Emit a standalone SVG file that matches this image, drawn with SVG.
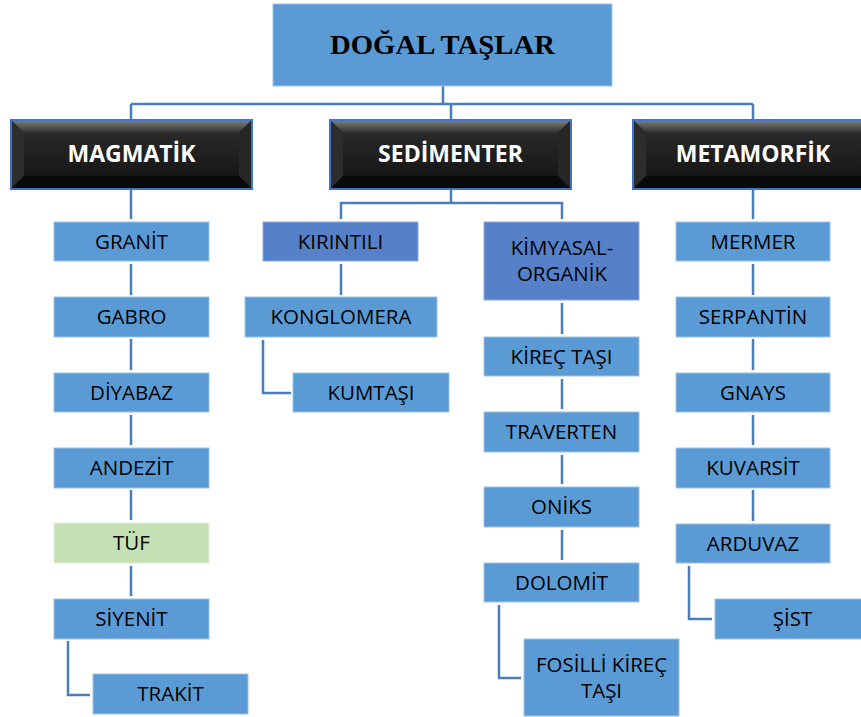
<svg xmlns="http://www.w3.org/2000/svg" xmlns:xlink="http://www.w3.org/1999/xlink" width="861" height="717" viewBox="0 0 861 717">
<style>
.box{fill:#5B9BD5;stroke:#9DC3E6;stroke-width:1}
.dark{fill:#5681C9;stroke:#8FAADC;stroke-width:1}
.green{fill:#C5E0B4;stroke:#E2F0D9;stroke-width:1}
.t{font-family:"Open Sans","Liberation Sans",sans-serif;font-size:20.5px;fill:#000;text-anchor:middle}
.c{font-family:"Open Sans","Liberation Sans",sans-serif;font-size:23px;font-weight:bold;fill:#fff;text-anchor:middle}
.title{font-family:"Liberation Serif",serif;font-size:28px;font-weight:bold;fill:#000;text-anchor:middle}
#connectors path{fill:none;stroke:#4A7EBB;stroke-width:2.5}
</style>
<defs>
<linearGradient id="topg" x1="0" y1="0" x2="0" y2="1">
<stop offset="0" stop-color="#7a7a7a"/><stop offset="1" stop-color="#2e2e2e"/>
</linearGradient>
<linearGradient id="face" x1="0" y1="0" x2="0" y2="1">
<stop offset="0" stop-color="#2a2a2a"/><stop offset="1" stop-color="#161616"/>
</linearGradient>
<g id="bevel">
<rect x="0" y="0" width="241" height="69" fill="#141414" stroke="#4472C4" stroke-width="2"/>
<polygon points="1,1 240,1 228,13 13,13" fill="url(#topg)"/>
<polygon points="1,1 13,13 13,56 1,68" fill="#2d2d2d"/>
<polygon points="240,1 228,13 228,56 240,68" fill="#262626"/>
<polygon points="1,68 13,56 228,56 240,68" fill="#0a0a0a"/>
<rect x="13" y="13" width="215" height="43" fill="url(#face)"/>
</g>
</defs>

<g id="connectors">
<path d="M443 86V104M131 104H753M131 104V120M451 104V120M753 104V120"/>
<path d="M131 189V219M131 264V295M131 339V370M131 415V445M131 490V520M131 566V596M68 641V695H90"/>
<path d="M451 189V203M341 219V203H562V219M341 264V295M263 340V393H291"/>
<path d="M562 303V334M562 379V409M562 455V484M562 530V560M499 605V678H521"/>
<path d="M753 189V219M753 264V295M753 339V370M753 415V445M753 490V521M689 566V619H712"/>
</g>

<g id="root"><rect x="273" y="4" width="339" height="82" class="box"/><text x="442.5" y="53.5" class="title" textLength="225" lengthAdjust="spacingAndGlyphs">DOĞAL TAŞLAR</text></g>

<g id="magmatik"><use xlink:href="#bevel" x="11" y="120"/><text x="131.5" y="162" class="c">MAGMATİK</text></g>
<g id="sedimenter"><use xlink:href="#bevel" x="330" y="120"/><text x="450.5" y="162" class="c">SEDİMENTER</text></g>
<g id="metamorfik"><use xlink:href="#bevel" x="633" y="120"/><text x="753" y="162" class="c">METAMORFİK</text></g>

<g id="granit"><rect x="54" y="222" width="155" height="39" class="box"/><text x="131.5" y="249" class="t">GRANİT</text></g>
<g id="gabro"><rect x="54" y="297" width="155" height="40" class="box"/><text x="131.5" y="324" class="t">GABRO</text></g>
<g id="diyabaz"><rect x="54" y="373" width="155" height="39" class="box"/><text x="131.5" y="400" class="t">DİYABAZ</text></g>
<g id="andezit"><rect x="54" y="448" width="155" height="40" class="box"/><text x="131.5" y="475" class="t">ANDEZİT</text></g>
<g id="tuf"><rect x="54" y="523" width="155" height="40" class="green"/><text x="131.5" y="550" class="t">TÜF</text></g>
<g id="siyenit"><rect x="54" y="599" width="155" height="40" class="box"/><text x="131.5" y="626" class="t">SİYENİT</text></g>
<g id="trakit"><rect x="93" y="674" width="155" height="40" class="box"/><text x="170.5" y="701" class="t">TRAKİT</text></g>

<g id="kirintili"><rect x="263" y="222" width="155" height="39" class="dark"/><text x="340.5" y="249" class="t">KIRINTILI</text></g>
<g id="konglomera"><rect x="245" y="297" width="192" height="40" class="box"/><text x="341" y="324" class="t">KONGLOMERA</text></g>
<g id="kumtasi"><rect x="293" y="373" width="156" height="39" class="box"/><text x="371" y="400" class="t">KUMTAŞI</text></g>

<g id="kimyasal"><rect x="484" y="222" width="155" height="78" class="dark"/><text x="562" y="255" class="t">KİMYASAL-</text><text x="562" y="281" class="t">ORGANİK</text></g>
<g id="kirectasi"><rect x="484" y="337" width="155" height="39" class="box"/><text x="561.5" y="364" class="t">KİREÇ TAŞI</text></g>
<g id="traverten"><rect x="484" y="412" width="155" height="40" class="box"/><text x="561.5" y="439" class="t">TRAVERTEN</text></g>
<g id="oniks"><rect x="484" y="487" width="155" height="40" class="box"/><text x="561.5" y="514" class="t">ONİKS</text></g>
<g id="dolomit"><rect x="484" y="563" width="155" height="39" class="box"/><text x="561.5" y="590" class="t">DOLOMİT</text></g>
<g id="fosilli"><rect x="524" y="639" width="155" height="77" class="box"/><text x="601.5" y="672" class="t">FOSİLLİ KİREÇ</text><text x="601.5" y="698" class="t">TAŞI</text></g>

<g id="mermer"><rect x="676" y="222" width="154" height="39" class="box"/><text x="753" y="249" class="t">MERMER</text></g>
<g id="serpantin"><rect x="676" y="297" width="154" height="40" class="box"/><text x="753" y="324" class="t">SERPANTİN</text></g>
<g id="gnays"><rect x="676" y="373" width="154" height="39" class="box"/><text x="753" y="400" class="t">GNAYS</text></g>
<g id="kuvarsit"><rect x="676" y="448" width="154" height="40" class="box"/><text x="753" y="475" class="t">KUVARSİT</text></g>
<g id="arduvaz"><rect x="676" y="524" width="154" height="39" class="box"/><text x="753" y="551" class="t">ARDUVAZ</text></g>
<g id="sist"><rect x="715" y="599" width="155" height="40" class="box"/><text x="792.5" y="626" class="t">ŞİST</text></g>
</svg>
